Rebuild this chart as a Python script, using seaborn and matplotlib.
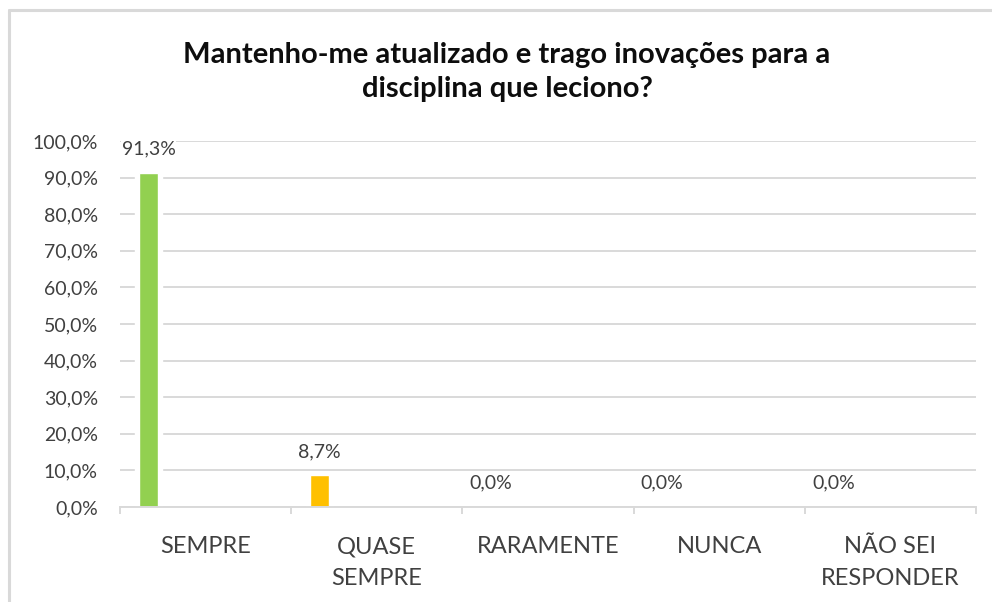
import matplotlib
matplotlib.use("Agg")
import matplotlib.pyplot as plt
from matplotlib.lines import Line2D
from matplotlib.ticker import FuncFormatter, FixedLocator
import seaborn as sns

# ---- data ----
title = "Mantenho-me atualizado e trago inovações para a\ndisciplina que leciono?"
categories = ["SEMPRE", "QUASE\nSEMPRE", "RARAMENTE", "NUNCA", "NÃO SEI\nRESPONDER"]
values = [91.3, 8.7, 0.0, 0.0, 0.0]
bar_colors = ["#92D050", "#FFC000", "#A5A5A5", "#5B9BD5", "#ED7D31"]
y_ticks = [0, 10, 20, 30, 40, 50, 60, 70, 80, 90, 100]

sns.set_theme(style="white")
plt.rcParams["font.family"] = ["Lato", "DejaVu Sans"]

fig = plt.figure(figsize=(9.92, 6.02), dpi=100)
ax = fig.add_axes([120 / 992, 95 / 602, 856 / 992, 366 / 602])

GRID = "#D9D9D9"
TXT = "#404040"

# white halo behind bars (interrupts gridlines like the original)
sns.barplot(x=categories, y=values, color="white", width=0.158, ax=ax,
            zorder=1.5, saturation=1)
n_halo = len(ax.containers)
sns.barplot(x=categories, y=values, hue=categories, palette=bar_colors,
            width=0.111, ax=ax, legend=False, zorder=2, saturation=1)

# bars sit left of category centre (Excel-style offset)
for p in ax.patches:
    p.set_x(p.get_x() - 0.333)

for c in ax.containers[n_halo:]:
    ax.bar_label(c, fmt=lambda v: f"{v:.1f}%".replace(".", ","), padding=11,
                 fontsize=14, color=TXT,
                 bbox=dict(facecolor="white", edgecolor="none", pad=0.5))

ax.set_xlim(-0.5, len(categories) - 0.5)
ax.set_ylim(0, 100)
ax.set_yticks(y_ticks)
ax.yaxis.set_major_formatter(FuncFormatter(lambda v, _: f"{v:.1f}%".replace(".", ",")))
ax.yaxis.grid(True, color=GRID, lw=1.4)
ax.set_axisbelow(True)
ax.set_xlabel("")
ax.set_ylabel("")

for s in ["top", "right", "left"]:
    ax.spines[s].set_visible(False)
ax.spines["bottom"].set_color(GRID)
ax.spines["bottom"].set_linewidth(1.4)
ax.spines["bottom"].set_zorder(3)

ax.xaxis.set_minor_locator(FixedLocator([i - 0.5 for i in range(len(categories) + 1)]))
ax.tick_params(axis="x", which="major", length=0, pad=21, labelsize=17, labelcolor=TXT)
ax.tick_params(axis="x", which="minor", length=5, width=1.4, color=GRID, bottom=True)
ax.tick_params(axis="y", length=0, pad=16, labelsize=14, labelcolor=TXT)
for lab in ax.get_xticklabels():
    lab.set_linespacing(1.65)

fig.text(507 / 992, 1 - 72 / 602, title, ha="center", va="center",
         fontsize=21, fontweight="bold", color="#0D0D0D", linespacing=1.42)

# chart border (left and top edges visible)
fig.add_artist(Line2D([8.5 / 992, 8.5 / 992], [0, 1 - 9.5 / 602], color=GRID, lw=2.2))
fig.add_artist(Line2D([8.5 / 992, 1], [1 - 9.5 / 602, 1 - 9.5 / 602], color=GRID, lw=2.2))

fig.savefig("out.png", dpi=100)
